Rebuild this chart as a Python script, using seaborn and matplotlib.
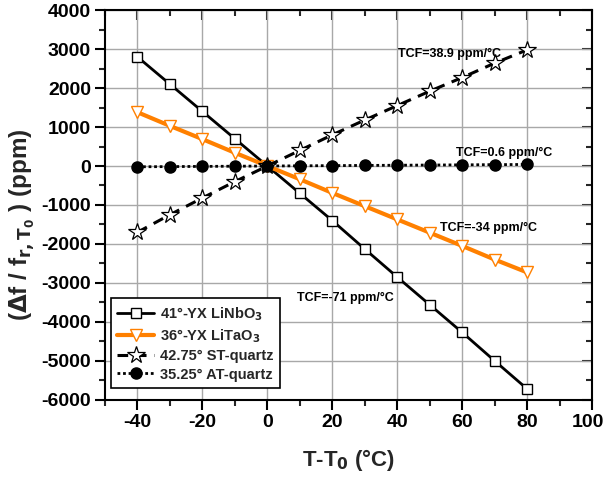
import numpy as np
import pandas as pd
import matplotlib
matplotlib.use("Agg")
import matplotlib.pyplot as plt
import matplotlib.transforms as mtransforms
from matplotlib.ticker import MultipleLocator
import seaborn as sns

# Temperature offsets T - T0 (°C)
temp = [-40, -30, -20, -10, 0, 10, 20, 30, 40, 50, 60, 70, 80]

# Relative frequency shift (ppm) for each substrate
linbo3 = [2800, 2100, 1400, 700, 0, -700, -1400, -2130, -2850, -3560, -4270, -5000, -5720]
litao3 = [1380, 1030, 690, 340, 0, -340, -690, -1030, -1370, -1710, -2050, -2400, -2730]
st_quartz = [-1700, -1250, -820, -400, 0, 400, 800, 1180, 1550, 1920, 2270, 2640, 2980]
at_quartz = [-20, -15, -10, -5, 0, 5, 10, 15, 20, 25, 30, 35, 40]

series_labels = [
    r"41°-YX LiNbO$_\mathbf{3}$",
    r"36°-YX LiTaO$_\mathbf{3}$",
    r"42.75° ST-quartz",
    r"35.25° AT-quartz",
]

tcf_labels = ["TCF=38.9 ppm/°C", "TCF=0.6 ppm/°C", "TCF=-34 ppm/°C", "TCF=-71 ppm/°C"]
tcf_pos = [(56, 2880), (73, 330), (68, -1590), (24, -3390)]

x_ticks = [-40, -20, 0, 20, 40, 60, 80, 100]
y_ticks = [-6000, -5000, -4000, -3000, -2000, -1000, 0, 1000, 2000, 3000, 4000]

sns.set_theme(style="white")
plt.rcParams["font.family"] = ["Liberation Sans", "DejaVu Sans"]
plt.rcParams["font.weight"] = "bold"
plt.rcParams["mathtext.default"] = "bf"
plt.rcParams["axes.unicode_minus"] = False

df = pd.DataFrame({
    "T": temp * 4,
    "shift": linbo3 + litao3 + st_quartz + at_quartz,
    "series": sum([[s] * len(temp) for s in series_labels], []),
})

fig = plt.figure(figsize=(6.06, 4.84), dpi=100)
ax = fig.add_axes([0.1733, 0.174, 0.8036, 0.805])

styles = [
    dict(color="black", lw=2.0, ls="-", marker="s", ms=7, mfc="white", mec="black", mew=1.0),
    dict(color="#ff8000", lw=3.0, ls="-", marker="v", ms=9, mfc="white", mec="#ff8000", mew=1.0),
    dict(color="black", lw=2.2, ls=(0, (3.5, 2.5)), marker="*", ms=13, mfc="white", mec="black", mew=0.9),
    dict(color="black", lw=2.0, ls=(0, (1, 1)), marker="o", ms=8, mfc="black", mec="black", mew=1.0),
]

for name, st in zip(series_labels, styles):
    sub = df[df["series"] == name]
    sns.lineplot(data=sub, x="T", y="shift", ax=ax, label=name,
                 color=st["color"], linewidth=st["lw"], linestyle=st["ls"],
                 marker=st["marker"], markersize=st["ms"],
                 markerfacecolor=st["mfc"], markeredgecolor=st["mec"],
                 markeredgewidth=st["mew"])

ax.set_xlim(-50, 100)
ax.set_ylim(-6000, 4000)
ax.set_xticks(x_ticks)
ax.set_yticks(y_ticks)
ax.xaxis.set_minor_locator(MultipleLocator(10))
ax.yaxis.set_minor_locator(MultipleLocator(500))
ax.grid(True, which="major", color="#a8a8a8", linewidth=1.0)
ax.set_axisbelow(True)

for sp in ax.spines.values():
    sp.set_color("black")
    sp.set_linewidth(1.5)

ax.tick_params(axis="both", which="major", direction="out", length=7, width=1.5,
               labelsize=14, colors="black", bottom=True, left=True, pad=3)
ax.tick_params(axis="both", which="minor", direction="out", length=4, width=1.5,
               bottom=True, left=True)
for lab in ax.get_xticklabels() + ax.get_yticklabels():
    lab.set_fontweight("bold")

# Keep the rightmost x tick label inside the figure edge
last_lab = ax.get_xticklabels()[-1]
last_lab.set_transform(last_lab.get_transform()
                       + mtransforms.ScaledTranslation(-4 / 100, 0, fig.dpi_scale_trans))

# Mirror ticks on the top and right frame, pointing inward
sec_x = ax.secondary_xaxis("top")
sec_x.set_xticks(x_ticks)
sec_x.xaxis.set_minor_locator(MultipleLocator(10))
sec_x.tick_params(which="major", direction="in", length=7, width=1.5, labeltop=False)
sec_x.tick_params(which="minor", direction="in", length=4, width=1.5)
sec_y = ax.secondary_yaxis("right")
sec_y.set_yticks(y_ticks)
sec_y.yaxis.set_minor_locator(MultipleLocator(500))
sec_y.tick_params(which="major", direction="in", length=7, width=1.5, labelright=False)
sec_y.tick_params(which="minor", direction="in", length=4, width=1.5)
for s in (sec_x, sec_y):
    for sp in s.spines.values():
        sp.set_visible(False)

ax.set_xlabel(r"T-T$_\mathbf{0}$ (°C)", fontsize=16, fontweight="bold", labelpad=12)
ax.set_ylabel(r"($\mathbf{\Delta}$f / f$_\mathbf{r,T_0}$ ) (ppm)", fontsize=17.5,
              fontweight="bold")
ax.yaxis.set_label_coords(-0.14, 0.45)

for txt, (tx, ty) in zip(tcf_labels, tcf_pos):
    ax.text(tx, ty, txt, fontsize=9, fontweight="bold", ha="center", va="center",
            color="black")

leg = ax.legend(loc="lower left", bbox_to_anchor=(0.012, 0.03), fontsize=10.5,
                frameon=True, fancybox=False, edgecolor="black", framealpha=1,
                handlelength=2.5, handletextpad=0.4, borderpad=0.45, labelspacing=0.3,
                borderaxespad=0)
leg.get_frame().set_linewidth(1.2)
for t in leg.get_texts():
    t.set_fontweight("bold")

fig.savefig("out.png", dpi=100)
